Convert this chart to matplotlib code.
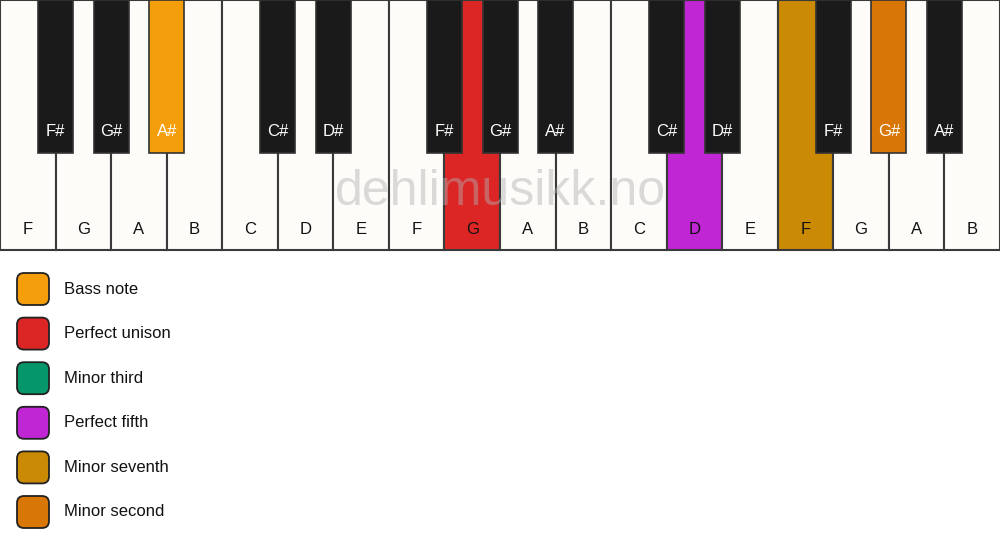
import matplotlib.pyplot as plt
from matplotlib.patches import Rectangle, FancyBboxPatch

plt.rcParams['font.family'] = ['Liberation Sans', 'DejaVu Sans']

white_notes = ["F", "G", "A", "B", "C", "D", "E", "F", "G", "A", "B",
               "C", "D", "E", "F", "G", "A", "B"]
# black key sits to the right of these white key indices
black_after = [0, 1, 2, 4, 5, 7, 8, 9, 11, 12, 14, 15, 16]
black_notes = ["F#", "G#", "A#", "C#", "D#", "F#", "G#", "A#",
               "C#", "D#", "F#", "G#", "A#"]

interval_names = ["Bass note", "Perfect unison", "Minor third",
                  "Perfect fifth", "Minor seventh", "Minor second"]
interval_colors = ["#F59E0B", "#DC2626", "#059669", "#C026D3", "#CA8A04", "#D97706"]

# highlighted keys: white key index -> interval, black key index -> interval
white_marks = {8: 1, 12: 3, 14: 4}
black_marks = {2: 0, 11: 5}

W, H = 1000, 550
kb_h = 250
wk = W / len(white_notes)
bk_w, bk_h = 35, 153

fig = plt.figure(figsize=(10, 5.5), dpi=100)
ax = fig.add_axes([0, 0, 1, 1])
ax.set_xlim(0, W)
ax.set_ylim(H, 0)
ax.axis("off")

for i, note in enumerate(white_notes):
    fc = interval_colors[white_marks[i]] if i in white_marks else "#FDFCF9"
    ax.add_patch(Rectangle((i * wk, 0), wk, kb_h, facecolor=fc,
                           edgecolor="#3a3a3a", linewidth=1.5, zorder=1))
    ax.text(i * wk + wk / 2, 230, note, ha="center", va="center",
            fontsize=12, color="#111111", zorder=4)

for j, (pos, note) in enumerate(zip(black_after, black_notes)):
    cx = (pos + 1) * wk
    fc = interval_colors[black_marks[j]] if j in black_marks else "#1A1A1A"
    ax.add_patch(Rectangle((cx - bk_w / 2, 0), bk_w, bk_h, facecolor=fc,
                           edgecolor="#333333", linewidth=1.2, zorder=2))
    ax.text(cx, 132, note, ha="center", va="center", fontsize=12,
            color="white", zorder=4)

ax.text(500, 192, "dehlimusikk.no", ha="center", va="center", fontsize=36,
        color="#b0b0b0", alpha=0.45, zorder=5)

for k, (name, col) in enumerate(zip(interval_names, interval_colors)):
    cy = 289 + k * 44.6
    ax.add_patch(FancyBboxPatch((17, cy - 16), 32, 32,
                                boxstyle="round,pad=0,rounding_size=7",
                                facecolor=col, edgecolor="#222222",
                                linewidth=1.3, zorder=3))
    ax.text(64, cy, name, ha="left", va="center", fontsize=12, color="#111111")

fig.savefig("out.png", dpi=100, facecolor="white")
